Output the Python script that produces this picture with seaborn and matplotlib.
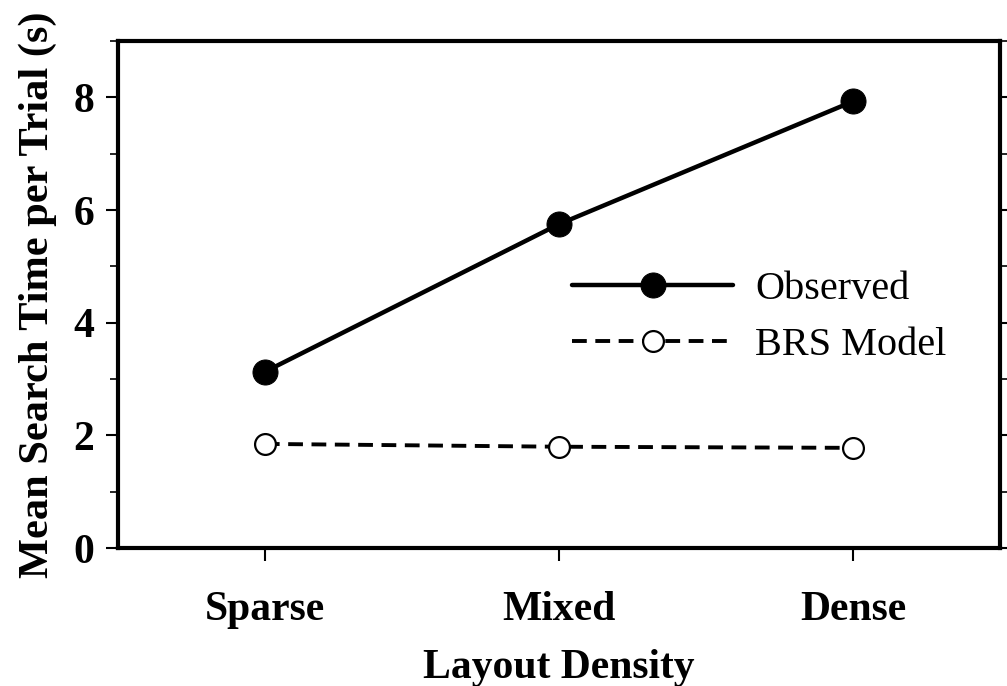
import numpy as np
import pandas as pd
import matplotlib
matplotlib.use("Agg")
import matplotlib.pyplot as plt
import seaborn as sns
from matplotlib.ticker import MultipleLocator

categories = ["Sparse", "Mixed", "Dense"]
observed = [3.13, 5.75, 7.93]
brs_model = [1.85, 1.80, 1.78]

sns.set_style("ticks")
plt.rcParams['font.family'] = ['Liberation Serif', 'DejaVu Serif']
plt.rcParams['text.color'] = 'black'
plt.rcParams['axes.labelcolor'] = 'black'
plt.rcParams['xtick.color'] = 'black'
plt.rcParams['ytick.color'] = 'black'

df_obs = pd.DataFrame({"density": categories, "time": observed})
df_brs = pd.DataFrame({"density": categories, "time": brs_model})

fig = plt.figure(figsize=(10.07, 6.86), dpi=100)
ax = fig.add_axes([0.117, 0.201, 0.876, 0.739])

sns.lineplot(data=df_obs, x="density", y="time", ax=ax, color="black",
             linewidth=3.2, marker="o", markersize=18, markerfacecolor="black",
             markeredgecolor="black", label="Observed", sort=False)
sns.lineplot(data=df_brs, x="density", y="time", ax=ax, color="black",
             linewidth=2.8, linestyle=(0, (3.8, 2.2)), marker="o", markersize=15,
             markerfacecolor="white", markeredgecolor="black", markeredgewidth=1.6,
             label="BRS Model", sort=False)

ax.set_xlim(-0.5, 2.5)
ax.set_ylim(0, 9)
ax.yaxis.set_major_locator(MultipleLocator(2))
ax.yaxis.set_minor_locator(MultipleLocator(1))

for s in ax.spines.values():
    s.set_linewidth(3)
    s.set_color("black")

ax.tick_params(axis="y", which="major", direction="out", length=9, width=1.5,
               left=True, right=True, labelsize=30, pad=8)
ax.tick_params(axis="y", which="minor", direction="out", length=6, width=1.2,
               left=True, right=True)
ax.tick_params(axis="x", which="major", direction="out", length=9, width=1.5,
               labelsize=30, pad=22)
ax.tick_params(axis="x", which="minor", bottom=False)
for lab in ax.get_xticklabels() + ax.get_yticklabels():
    lab.set_fontweight("bold")

ax.set_xlabel("Layout Density", fontsize=30, fontweight="bold", labelpad=14)
ax.set_ylabel("Mean Search Time per Trial (s)", fontsize=30.5, fontweight="bold", labelpad=12)

ax.legend(loc="center left", bbox_to_anchor=(0.515, 0.455), frameon=False,
          fontsize=29, handlelength=4.0, handletextpad=0.55, labelspacing=0.45,
          borderpad=0, borderaxespad=0)

fig.savefig("out.png", dpi=100)
